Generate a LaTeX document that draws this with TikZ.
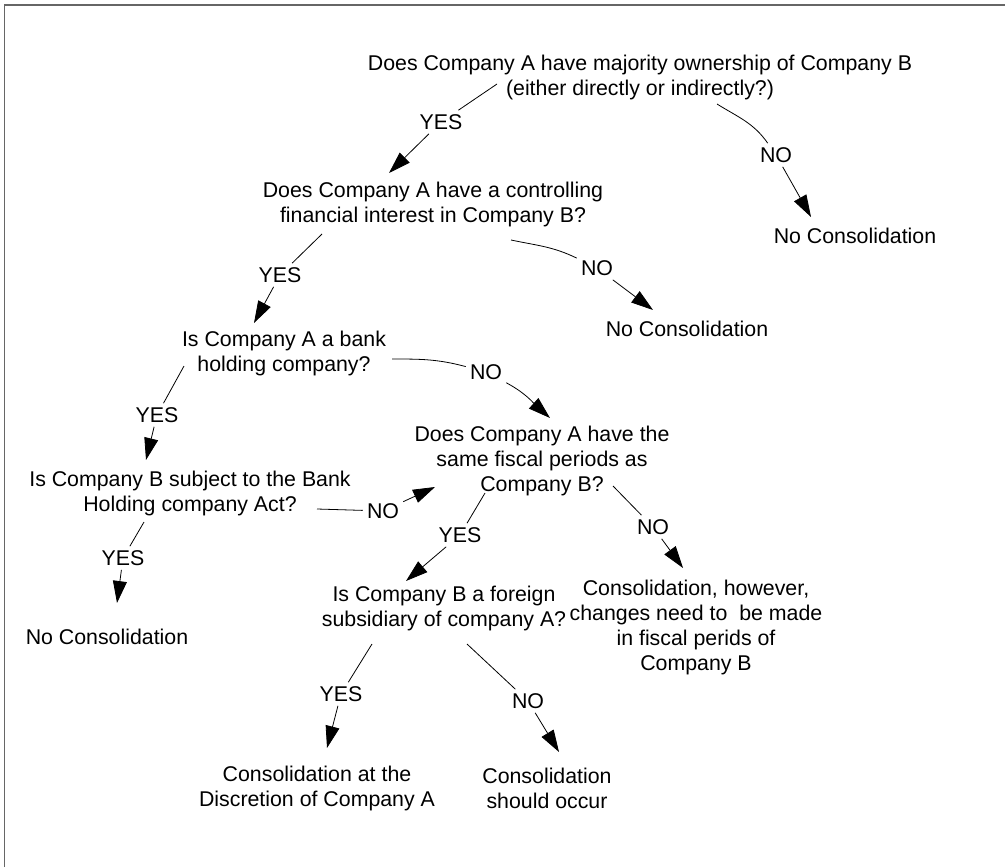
\documentclass[tikz,border=0pt]{standalone}
\usepackage{fontspec}
\setmainfont{Liberation Sans}
\usetikzlibrary{arrows.meta}
\begin{document}
\begin{tikzpicture}[x=0.75pt,y=-0.75pt,
  txt/.style={align=center,font=\fontsize{16}{18.75}\selectfont,inner sep=0pt},
  lbl/.style={font=\fontsize{16}{18.75}\selectfont,inner sep=3pt},
  con/.style={line width=0.6pt},
  arr/.style={con,-{Triangle[length=16.5pt,width=10.5pt]}},
  frame/.style={draw=black!60,line width=1.4pt}]
\useasboundingbox (0,0) rectangle (1005,867);
\draw[frame] (4.5,867) -- (4.5,5) -- (1005,5);

% question and result nodes
\node[txt] (n1) at (640,77) {Does Company A have majority ownership of Company B\\(either directly or indirectly?)};
\node[txt] (n2) at (433,204) {Does Company A have a controlling\\financial interest in Company B?};
\node[txt] (c1) at (855,236) {No Consolidation};
\node[txt] (c2) at (687,329) {No Consolidation};
\node[txt] (n3) at (284,353) {Is Company A a bank\\holding company?};
\node[txt] (n4) at (190,493) {Is Company B subject to the Bank\\Holding company Act?};
\node[txt] (c3) at (107,637) {No Consolidation};
\node[txt] (n5) at (542,461) {Does Company A have the\\same fiscal periods as\\Company B?};
\node[txt] (n6) at (444,608) {Is Company B a foreign\\subsidiary of company A?};
\node[txt] (n7) at (696,627) {Consolidation, however,\\changes need to~~be made\\in fiscal perids of\\Company B};
\node[txt] (n8) at (317,788) {Consolidation at the\\Discretion of Company A};
\node[txt] (n9) at (547,788) {Consolidation\\should occur};

% labels
\node[lbl] (yes1) at (441,122) {YES};
\node[lbl] (no1) at (776,155) {NO};
\node[lbl] (yes2) at (280,275) {YES};
\node[lbl] (no2) at (597,268) {NO};
\node[lbl] (yes3) at (157,415) {YES};
\node[lbl] (no3) at (486,372) {NO};
\node[lbl] (yes4) at (123,558) {YES};
\node[lbl] (no4) at (383,511) {NO};
\node[lbl] (yes5) at (460,535) {YES};
\node[lbl] (no5) at (653,527) {NO};
\node[lbl] (yes6) at (341,694) {YES};
\node[lbl] (no6) at (528,701) {NO};

% connector ends
\coordinate (n1y) at (497,84);   \coordinate (n2t) at (389,173);
\coordinate (n1n) at (717,104);  \coordinate (c1t) at (811,217);
\coordinate (n2y) at (322,234);  \coordinate (n3t) at (254,323);
\coordinate (n2n) at (511,240);  \coordinate (c2t) at (653,310);
\coordinate (n3y) at (184,366);  \coordinate (n4t) at (146,460);
\coordinate (n3n) at (392,359);  \coordinate (n5t) at (550,418);
\coordinate (n4y) at (144,522);  \coordinate (c3t) at (117,603);
\coordinate (n4n) at (317,509);  \coordinate (n5u) at (435,487);
\coordinate (n5y) at (485,493);  \coordinate (n6t) at (406,581);
\coordinate (n5n) at (613,486);  \coordinate (n7t) at (683,568);
\coordinate (n6y) at (372,644);  \coordinate (n8t) at (327,748);
\coordinate (n6n) at (467,644);  \coordinate (n9t) at (559,752);

% connectors
\draw[con] (n1y) -- (yes1);  \draw[arr] (yes1) -- (n2t);
\draw[con] (n1n) to[out=-32,in=125] (no1);  \draw[arr] (no1) -- (c1t);
\draw[con] (n2n) to[out=-12,in=154] (no2);  \draw[arr] (no2) -- (c2t);
\draw[con] (n2y) -- (yes2);  \draw[arr] (yes2) -- (n3t);
\draw[con] (n3y) -- (yes3);  \draw[arr] (yes3) -- (n4t);
\draw[con] (n3n) to[out=0,in=165] (no3);  \draw[arr] (no3) to[out=-28,in=138] (n5t);
\draw[con] (n4y) -- (yes4);  \draw[arr] (yes4) -- (c3t);
\draw[con] (n4n) -- (no4);   \draw[arr] (no4) -- (n5u);
\draw[con] (n5y) -- (yes5);  \draw[arr] (yes5) -- (n6t);
\draw[con] (n5n) -- (no5);   \draw[arr] (no5) -- (n7t);
\draw[con] (n6y) -- (yes6);  \draw[arr] (yes6) -- (n8t);
\draw[con] (n6n) -- (no6);   \draw[arr] (no6) -- (n9t);
\end{tikzpicture}
\end{document}
